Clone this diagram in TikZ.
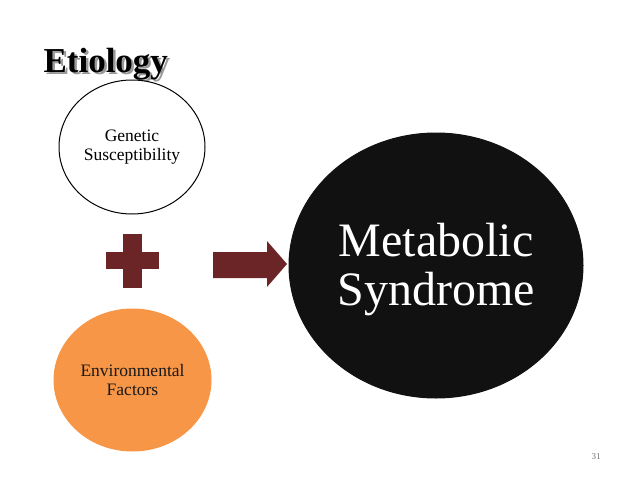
\documentclass[tikz,border=0pt]{standalone}
\usepackage{fontspec}
\setmainfont{Liberation Serif}
\usepackage{xcolor}
\usetikzlibrary{shapes.geometric}
\definecolor{maroon}{HTML}{6B2526}
\definecolor{orangefill}{HTML}{F79646}
\definecolor{nearblack}{HTML}{111111}

\begin{document}
\begin{tikzpicture}[x=1pt, y=-1pt,
  bubble/.style={ellipse, draw=black, line width=1pt, inner sep=0pt, align=center},
  every node/.style={font=\fontsize{17.5}{19}\selectfont}]
  \useasboundingbox (0,0) rectangle (638,479);
  % title with shadow
  \node[anchor=base west, font=\fontsize{35}{40}\selectfont\bfseries, text=black!40] (titleshadow) at (42.5,74.5) {Etiology};
  \node[anchor=base west, font=\fontsize{35}{40}\selectfont\bfseries] (title) at (40,72) {Etiology};
  % the three circles
  \node[bubble, fill=white, minimum width=146, minimum height=134] (genetic) at (132,147) {Genetic\\Susceptibility};
  \node[bubble, draw=orangefill, fill=orangefill, minimum width=157, minimum height=142, text=black!90] (environ) at (132.5,380) {Environmental\\Factors};
  \node[bubble, draw=nearblack, fill=nearblack, minimum width=294, minimum height=265] (metabolic) at (436,265.5) {};
  \node[align=center, text=white, font=\fontsize{48}{49}\selectfont] (metatext) at (436,269.5) {Metabolic\\Syndrome};
  % plus sign
  \fill[maroon] (123,234) rectangle (142,288);
  \fill[maroon] (106,252) rectangle (159,269);
  % block arrow
  \fill[maroon] (213,252) -- (267,252) -- (267,241) -- (287,264) -- (267,287) -- (267,278) -- (213,278) -- cycle;
  % slide number
  \node[font=\fontsize{9}{10}\selectfont, text=black!55] (pagenum) at (596,457) {31};
\end{tikzpicture}
\end{document}
